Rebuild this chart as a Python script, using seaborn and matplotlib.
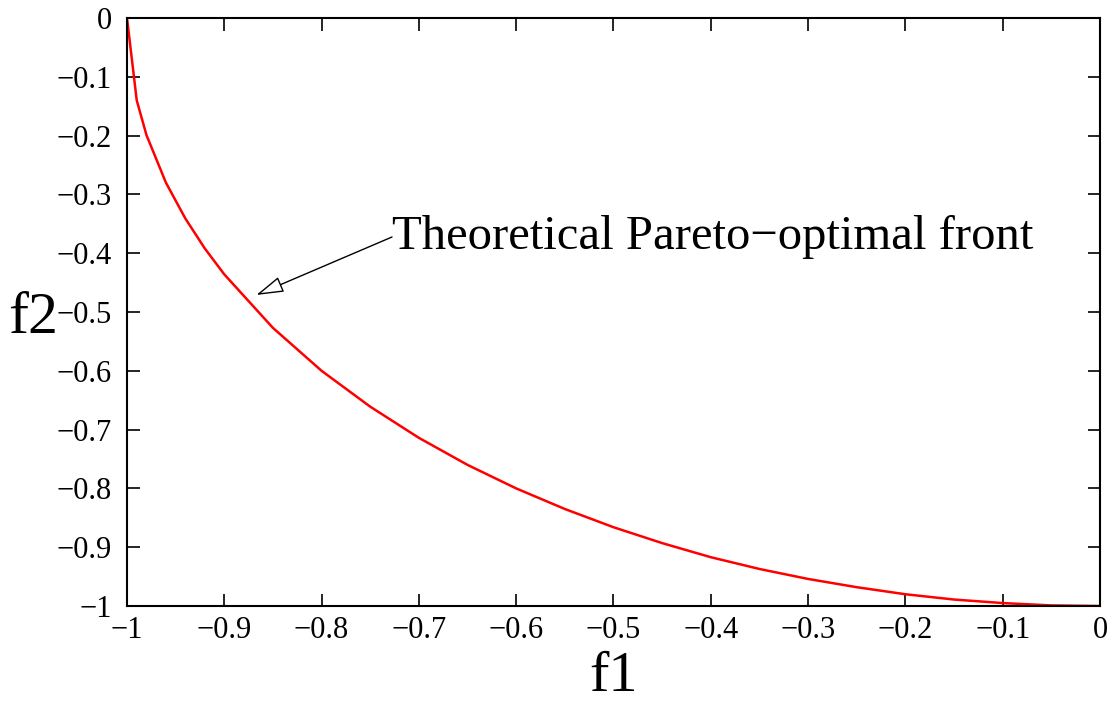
import numpy as np
import pandas as pd
import seaborn as sns
import matplotlib
matplotlib.use("Agg")
import matplotlib.pyplot as plt

# points
f1 = [-1.0, -0.99, -0.98, -0.96, -0.94, -0.92, -0.90, -0.85, -0.80, -0.75,
      -0.70, -0.65, -0.60, -0.55, -0.50, -0.45, -0.40, -0.35, -0.30, -0.25,
      -0.20, -0.15, -0.10, -0.05, 0.0]
f2 = [0.0, -0.14, -0.199, -0.28, -0.341, -0.392, -0.436, -0.527, -0.60, -0.661,
      -0.714, -0.76, -0.80, -0.835, -0.866, -0.893, -0.917, -0.937, -0.954, -0.968,
      -0.98, -0.989, -0.995, -0.999, -1.0]
xticks = [-1, -0.9, -0.8, -0.7, -0.6, -0.5, -0.4, -0.3, -0.2, -0.1, 0]
yticks = [0, -0.1, -0.2, -0.3, -0.4, -0.5, -0.6, -0.7, -0.8, -0.9, -1]

def fmt(v):
    if v == 0:
        return "0"
    if v == -1:
        return "\u22121"
    return ("%.1f" % v).replace("-", "\u2212")

sns.set_style("ticks")
plt.rcParams['font.family'] = ['Liberation Serif', 'DejaVu Serif']
plt.rcParams['text.color'] = 'black'
plt.rcParams['axes.labelcolor'] = 'black'
plt.rcParams['xtick.color'] = 'black'
plt.rcParams['ytick.color'] = 'black'

df = pd.DataFrame({'f1': f1, 'f2': f2})

fig = plt.figure(figsize=(11.15, 7.04), dpi=100)
ax = fig.add_axes([0.1139, 0.1392, 0.8726, 0.8352])
sns.lineplot(data=df, x='f1', y='f2', color='#ff0000', linewidth=1.8, ax=ax, sort=False)

ax.set_xlim(-1, 0)
ax.set_ylim(-1, 0)
ax.set_xticks(xticks)
ax.set_yticks(yticks)
ax.set_xticklabels([fmt(v) for v in xticks], fontsize=22)
ax.set_yticklabels([fmt(v) for v in yticks], fontsize=22)
ax.tick_params(direction='in', length=9, width=1.2, top=True, right=True,
               color='black', labelcolor='black')
ax.tick_params(axis='x', pad=7)
ax.tick_params(axis='y', pad=11)
for s in ax.spines.values():
    s.set_linewidth(1.5)
    s.set_color('black')

ax.set_xlabel('f1', fontsize=42, va='baseline', ha='center', color='black')
ax.set_ylabel('f2', fontsize=43, rotation=0, va='baseline', ha='center', color='black')
ax.xaxis.set_label_coords(0.5, -0.144)
ax.yaxis.set_label_coords(-0.0966, 0.464)

# arrow and label drawn separately
ax.annotate('', xy=(-0.867, -0.471), xytext=(-0.7276, -0.3724),
            arrowprops=dict(arrowstyle='-|>,head_length=1.7,head_width=0.5',
                            facecolor='white', edgecolor='black', lw=1.0,
                            mutation_scale=10, shrinkA=0, shrinkB=0))
ax.text(-0.7276, -0.372, 'Theoretical Pareto\u2212optimal front', fontsize=35,
        ha='left', va='center', color='black')

fig.savefig('out.png', dpi=100)
